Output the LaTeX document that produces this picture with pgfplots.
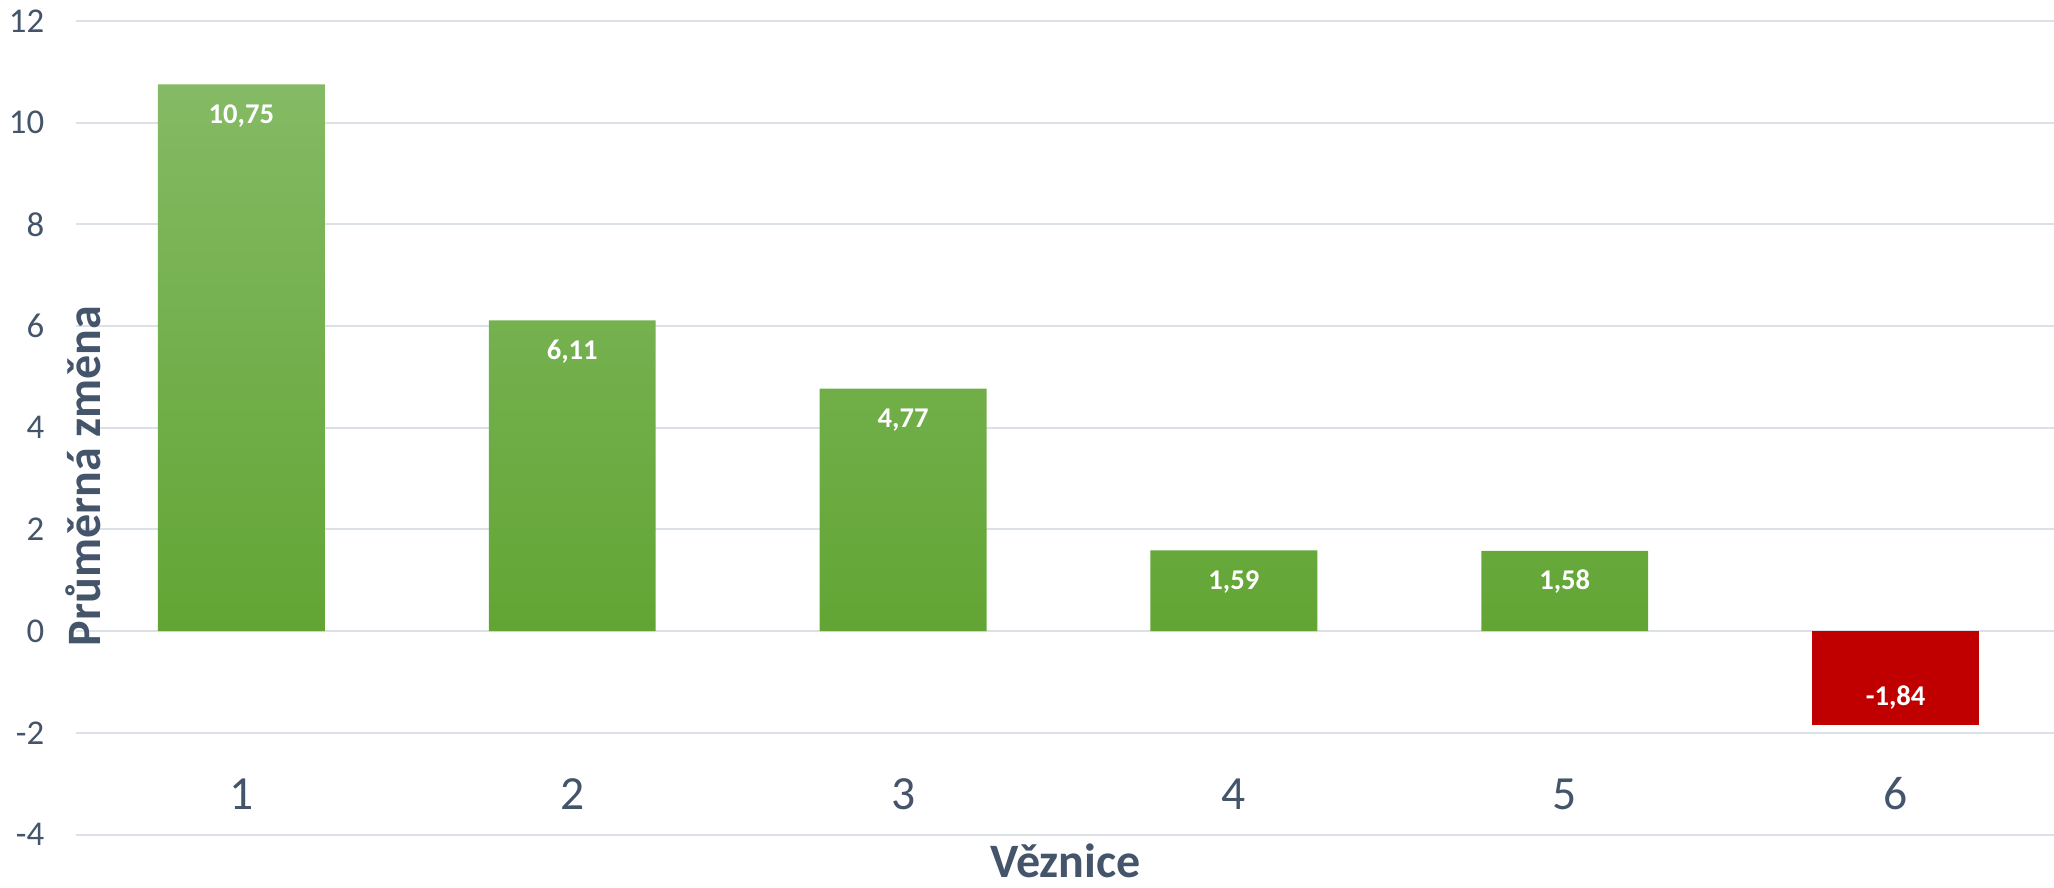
\documentclass[border=0pt]{standalone}
\usepackage{pgfplots}
\pgfplotsset{compat=1.18}
\usepackage{fontspec}
\setmainfont{Carlito}
\definecolor{txt}{HTML}{44546A}
\definecolor{gridc}{HTML}{DCE1E8}
\definecolor{gtop}{HTML}{84BA64}
\definecolor{gbot}{HTML}{62A534}
\definecolor{redbar}{HTML}{C00000}

\begin{document}
\begin{tikzpicture}
\begin{axis}[
  name=ax,
  scale only axis,
  width=496.35pt, height=203.5pt,
  xmin=-0.5, xmax=5.5,
  ymin=-4, ymax=12,
  ytick={-4,-2,...,12},
  xtick={0,...,5},
  xticklabels={1,2,3,4,5,6},
  ymajorgrids,
  grid style={gridc, line width=0.5pt},
  axis line style={draw=none},
  major tick length=0pt,
  /pgf/number format/assume math mode=true,
  yticklabel style={anchor=east, inner sep=0pt, xshift=-7.75pt, text=txt,
    font=\fontsize{8.7}{10}\selectfont},
  xticklabel style={anchor=base, inner sep=0pt, yshift=6.2pt, text=txt,
    font=\fontsize{11.9}{14}\selectfont},
  xlabel={Věznice},
  ylabel={Průměrná změna},
  xlabel style={at={(rel axis cs:0.4985,0)}, anchor=base, yshift=-10.8pt,
    inner sep=0pt, text=txt, font=\bfseries\fontsize{12}{14}\selectfont},
  ylabel style={at={(rel axis cs:0.0121,0.4407)}, anchor=base,
    inner sep=0pt, text=txt, font=\bfseries\fontsize{12}{14}\selectfont},
  ybar, bar width=41.75pt, bar shift=0pt,
]
\addplot[ybar, draw=none, top color=gtop, bottom color=gbot,
  nodes near coords={\pgfmathprintnumber[fixed,fixed zerofill,precision=2,use comma]{\pgfplotspointmeta}},
  every node near coord/.append style={anchor=base, yshift=-9.8pt, text=white,
    font=\bfseries\fontsize{7.15}{8}\selectfont}]
  coordinates {(0,10.75) (1,6.11) (2,4.77) (3,1.59) (4,1.58)};
\addplot[ybar, draw=none, fill=redbar,
  nodes near coords={\pgfmathprintnumber[fixed,fixed zerofill,precision=2,use comma]{\pgfplotspointmeta}},
  every node near coord/.append style={anchor=base, yshift=4.7pt, text=white,
    font=\bfseries\fontsize{7.15}{8}\selectfont}]
  coordinates {(5,-1.84)};
\end{axis}
\pgfresetboundingbox
\path ([xshift=-19pt,yshift=-13.1pt]ax.south west) rectangle ([xshift=-1.75pt,yshift=5.2pt]ax.north east);
\end{tikzpicture}
\end{document}
